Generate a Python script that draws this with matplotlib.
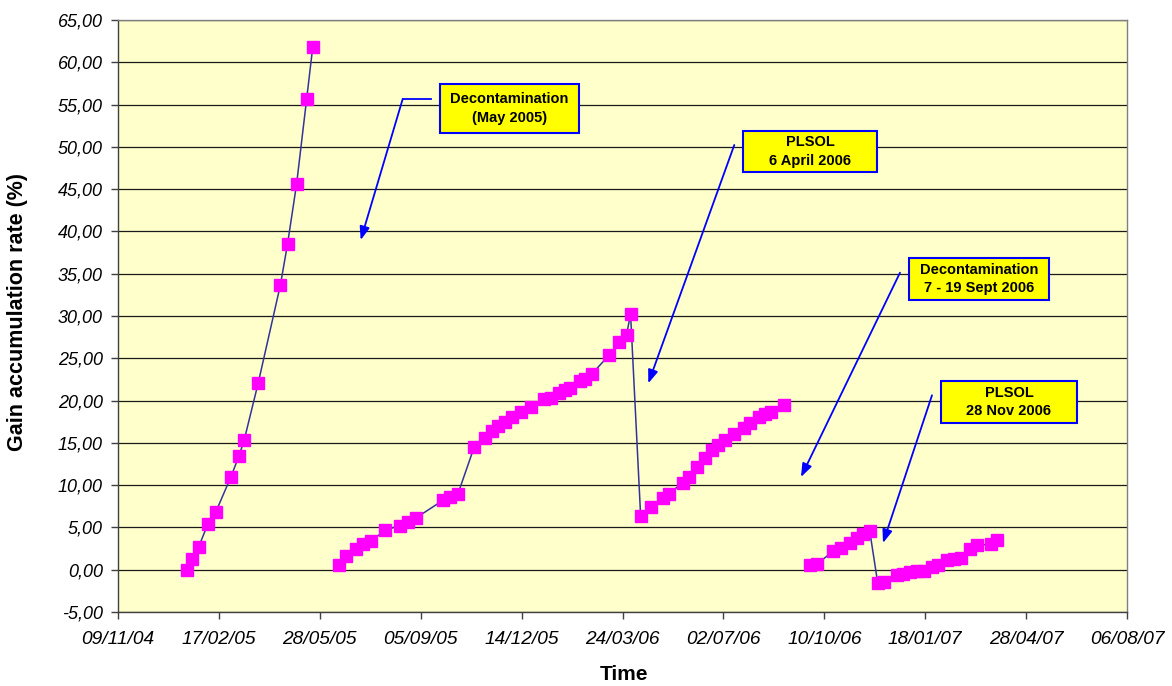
import matplotlib
matplotlib.use('Agg')
import matplotlib.pyplot as plt
import numpy as np
from matplotlib.patches import Rectangle
from matplotlib.ticker import FuncFormatter
import matplotlib.dates as mdates

plt.rcParams['font.family'] = ['Liberation Sans', 'DejaVu Sans']

# ---- data ----
period1_dates = ['2005-01-16', '2005-01-21', '2005-01-28', '2005-02-06', '2005-02-14',
                 '2005-03-01', '2005-03-09', '2005-03-14', '2005-03-28', '2005-04-19',
                 '2005-04-26', '2005-05-05', '2005-05-15', '2005-05-21']
period1_values = [0.0, 1.3, 2.7, 5.4, 6.85, 11.0, 13.5, 15.3, 22.1, 33.7, 38.5, 45.6, 55.7, 61.8]

period2_dates = ['2005-06-16', '2005-06-23', '2005-07-03', '2005-07-10', '2005-07-18',
                 '2005-08-01', '2005-08-15', '2005-08-23', '2005-08-31', '2005-09-27',
                 '2005-10-04', '2005-10-12', '2005-10-28', '2005-11-08', '2005-11-15',
                 '2005-11-21', '2005-11-28', '2005-12-04', '2005-12-13', '2005-12-23',
                 '2006-01-05', '2006-01-12', '2006-01-20', '2006-01-26', '2006-01-31',
                 '2006-02-10', '2006-02-15', '2006-02-22', '2006-03-11', '2006-03-21',
                 '2006-03-28', '2006-04-01',
                 '2006-04-11', '2006-04-21', '2006-05-03', '2006-05-09', '2006-05-23',
                 '2006-05-29', '2006-06-06', '2006-06-14', '2006-06-21', '2006-06-27',
                 '2006-07-04', '2006-07-13', '2006-07-22', '2006-07-28', '2006-08-06',
                 '2006-08-12', '2006-08-18', '2006-08-31']
period2_values = [0.6, 1.6, 2.5, 3.0, 3.4, 4.7, 5.2, 5.7, 6.1, 8.2,
                  8.6, 9.0, 14.5, 15.6, 16.4, 17.0, 17.5, 18.0, 18.6, 19.2,
                  20.2, 20.3, 20.9, 21.3, 21.5, 22.3, 22.6, 23.2, 25.4, 26.9,
                  27.8, 30.2,
                  6.3, 7.4, 8.5, 9.0, 10.3, 11.0, 12.2, 13.2, 14.1, 14.8,
                  15.3, 16.0, 16.8, 17.3, 18.0, 18.4, 18.7, 19.5]

period3_dates = ['2006-09-26', '2006-10-03', '2006-10-19', '2006-10-27', '2006-11-04',
                 '2006-11-11', '2006-11-17', '2006-11-24', '2006-12-02', '2006-12-08',
                 '2006-12-21', '2006-12-27', '2007-01-03', '2007-01-10', '2007-01-17',
                 '2007-01-25', '2007-01-31', '2007-02-09', '2007-02-16', '2007-02-22',
                 '2007-03-03', '2007-03-10', '2007-03-24', '2007-03-30']
period3_values = [0.6, 0.7, 2.2, 2.6, 3.2, 3.7, 4.2, 4.6, -1.6, -1.4,
                  -0.6, -0.5, -0.3, -0.1, -0.1, 0.3, 0.5, 1.2, 1.3, 1.4,
                  2.4, 2.9, 3.0, 3.5]

x_start = '2004-11-09'
x_end = '2007-08-06'
y_ticks = [-5, 0, 5, 10, 15, 20, 25, 30, 35, 40, 45, 50, 55, 60, 65]

annotation_texts = ['Decontamination\n(May 2005)', 'PLSOL\n6 April 2006',
                    'Decontamination\n7 - 19 Sept 2006', 'PLSOL\n28 Nov 2006']

# ---- figure ----
W, H = 1172, 686
fig = plt.figure(figsize=(W / 100, H / 100), dpi=100)
L, R, T, B = 118, 1127, 20, 612
ax = fig.add_axes([L / W, 1 - B / H, (R - L) / W, (B - T) / H])
ax.set_facecolor('#FFFFCC')

for d, v in [(period1_dates, period1_values), (period2_dates, period2_values),
             (period3_dates, period3_values)]:
    ax.plot(np.array(d, dtype='datetime64[D]'), v, color='#333399', lw=1.1,
            marker='s', markersize=8.2, markerfacecolor='#FF00FF',
            markeredgecolor='#FF00FF', zorder=3)

ax.set_ylim(-5, 65)
ax.set_yticks(y_ticks)
ax.yaxis.set_major_formatter(FuncFormatter(lambda v, p: f'{v:.2f}'.replace('.', ',')))
x0 = np.datetime64(x_start)
x1 = np.datetime64(x_end)
ax.set_xlim(x0, x1)
ax.set_xticks(np.arange(x0, x1 + np.timedelta64(1, 'D'), np.timedelta64(100, 'D')))
ax.xaxis.set_major_formatter(mdates.DateFormatter('%d/%m/%y'))

ax.grid(axis='y', color='#1a1a1a', lw=0.9)
ax.set_axisbelow(True)
for s in ['left', 'bottom']:
    ax.spines[s].set_color('#404040')
    ax.spines[s].set_linewidth(1.0)
for s in ['top', 'right']:
    ax.spines[s].set_color('#808080')
    ax.spines[s].set_linewidth(1.0)

ax.tick_params(axis='both', direction='out', length=5, color='#404040', width=1)
ax.tick_params(axis='x', pad=9)
ax.tick_params(axis='y', pad=6)
for lab in ax.get_yticklabels():
    lab.set_fontsize(13)
    lab.set_fontstyle('italic')
    lab.set_color('#000000')
for lab in ax.get_xticklabels():
    lab.set_fontsize(13.8)
    lab.set_fontstyle('italic')
    lab.set_color('#000000')

fig.text(18 / W, 1 - 312 / H, 'Gain accumulation rate (%)', rotation=90,
         ha='center', va='center', fontsize=15.5, fontweight='bold')
fig.text(624 / W, 1 - 675 / H, 'Time', ha='center', va='center',
         fontsize=15, fontweight='bold')

# ---- annotations (positions in pixels -> axes fractions) ----
def fx(px):
    return (px - L) / (R - L)

def fy(py):
    return (B - py) / (B - T)

boxes = [(440, 84, 579, 133), (743, 131, 877, 172), (909, 258, 1049, 300), (941, 381, 1077, 423)]
arrows = [((402.7, 99), (360.7, 240)), ((734.3, 145), (648.3, 383.3)),
          ((900, 272.7), (801, 477)), ((932, 395.3), (883, 543))]

for (bx0, by0, bx1, by1), txt in zip(boxes, annotation_texts):
    ax.add_patch(Rectangle((fx(bx0), fy(by1)), fx(bx1) - fx(bx0), fy(by0) - fy(by1),
                           transform=ax.transAxes, facecolor='#FFFF00',
                           edgecolor='#0000FF', lw=1.5, zorder=5, clip_on=False))
    ax.text((fx(bx0) + fx(bx1)) / 2, (fy(by0) + fy(by1)) / 2, txt, transform=ax.transAxes,
            ha='center', va='center', fontsize=10.5, fontweight='bold',
            linespacing=1.45, zorder=6)

# first arrow has a horizontal lead-in segment
ax.plot([fx(430.7), fx(402.7)], [fy(99), fy(99)], transform=ax.transAxes,
        color='#0000FF', lw=1.3, zorder=4)
for (sx, sy), (tx, ty) in arrows:
    ax.annotate('', xy=(fx(tx), fy(ty)), xycoords='axes fraction',
                xytext=(fx(sx), fy(sy)), textcoords='axes fraction',
                arrowprops=dict(arrowstyle='-|>,head_length=0.8,head_width=0.3',
                                color='#0000FF', lw=1.3, shrinkA=0, shrinkB=0),
                zorder=4)

fig.savefig('out.png', dpi=100, facecolor='white')
